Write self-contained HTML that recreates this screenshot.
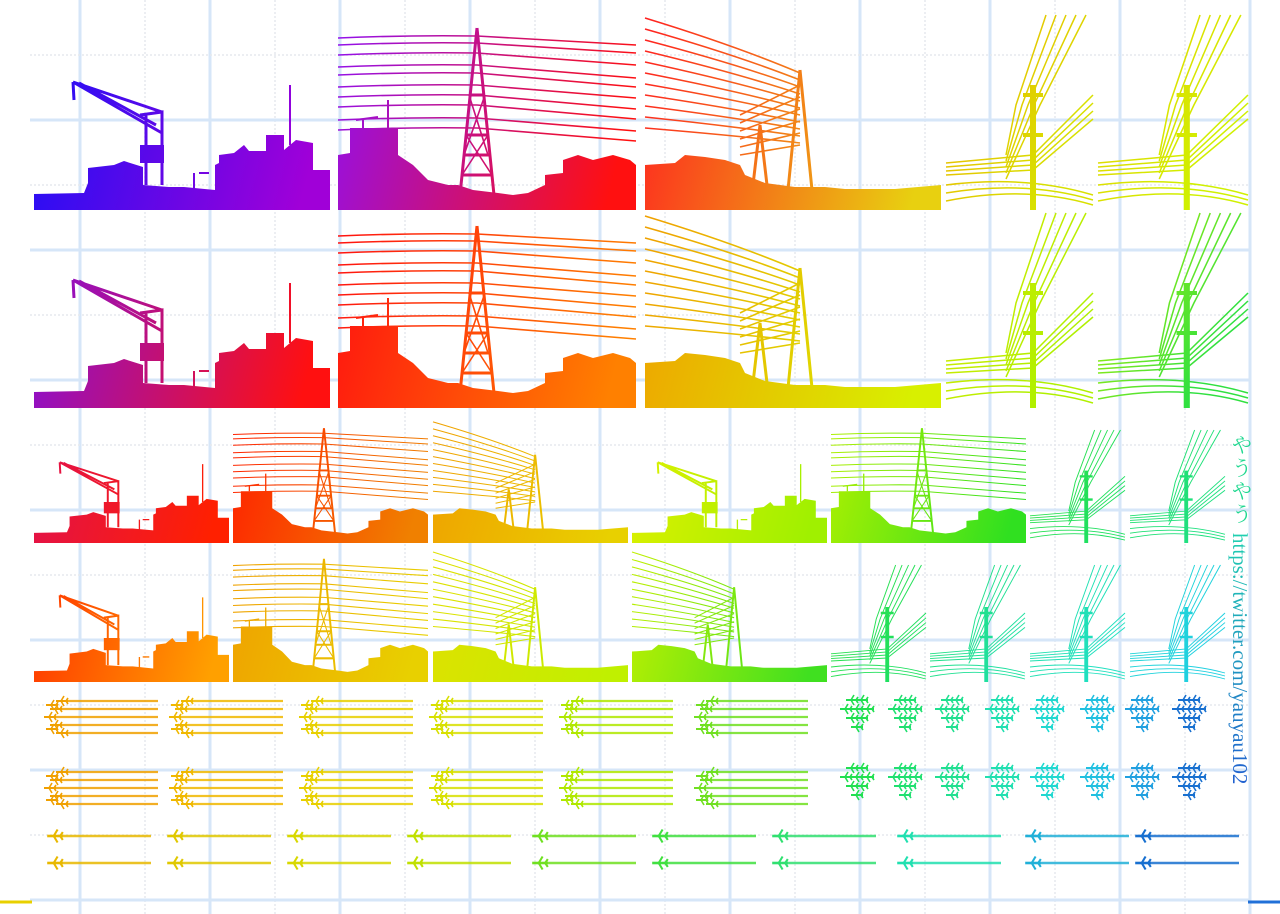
<!DOCTYPE html>
<html><head><meta charset="utf-8"><style>
html,body{margin:0;padding:0;background:#fff;}
#wrap{position:relative;width:1280px;height:914px;overflow:hidden;background:#fff;}
svg{position:absolute;left:0;top:0;}
.v{position:absolute;writing-mode:vertical-rl;font-family:"Liberation Serif","Noto Serif CJK SC",serif;font-size:21px;}
</style></head><body><div id="wrap">
<svg id="s" width="1280" height="914" viewBox="0 0 1280 914"></svg>
<div class="v" style="left:1226px;top:434px;color:#20d890;letter-spacing:2px;">やうやう</div>
<div class="v" style="left:1227px;top:533px;color:#20b0d0;background:linear-gradient(#20d0b0,#2060d0);-webkit-background-clip:text;background-clip:text;-webkit-text-fill-color:transparent;">https://twitter.com/yauyau102</div>
</div>
<script>
var s='';var defs='';var gid=0;
var g='';
for(var x=80;x<1280;x+=130){g+='<line x1="'+x+'" y1="0" x2="'+x+'" y2="914" stroke="#d6e6f8" stroke-width="3"/>';g+='<line x1="'+(x+65)+'" y1="0" x2="'+(x+65)+'" y2="914" stroke="#e6e9ee" stroke-width="1.5" stroke-dasharray="2,2"/>';}
for(var y=120;y<914;y+=130){g+='<line x1="30" y1="'+y+'" x2="1250" y2="'+y+'" stroke="#d6e6f8" stroke-width="3"/>';g+='<line x1="30" y1="'+(y-65)+'" x2="1250" y2="'+(y-65)+'" stroke="#e6e9ee" stroke-width="1.5" stroke-dasharray="2,2"/>';}
s+=g;
function grad(c1,c2,w,h){gid++;defs+='<linearGradient id="g'+gid+'" gradientUnits="userSpaceOnUse" x1="0" y1="0" x2="'+w+'" y2="'+(h*0.4)+'"><stop offset="0" stop-color="'+c1+'"/><stop offset="1" stop-color="'+c2+'"/></linearGradient>';return 'url(#g'+gid+')';}
function wrapG(x,y,sx,sy,inner){return '<g transform="translate('+x+','+y+') scale('+sx+','+sy+')">'+inner+'</g>';}
function crane(x,y,w,h,c1,c2){var f=grad(c1,c2,296,195);var i='';
i+='<path fill="'+f+'" d="M0,195 L0,179 L50,178 L54,168 L54,153 L80,150 L90,146 L109,152 L109,170 L135,172 L150,172 L181,175 L181,150 L185,148 L185,140 L200,138 L210,130 L215,136 L232,136 L232,120 L250,120 L250,135 L262,125 L279,128 L279,155 L296,155 L296,195 Z"/>';
i+='<g stroke="'+f+'" fill="none"><path d="M39,67 L128,97 M39,67 L128,118 M45,68 L122,110 M106,100 L128,97 L128,170 M112,100 L112,170 M39,67 L40,85" stroke-width="3"/><path d="M256,70 L256,130 M160,158 L160,175 M165,158 L175,158" stroke-width="2"/></g>';
i+='<rect x="106" y="130" width="24" height="18" fill="'+f+'"/>';
s+=wrapG(x,y,w/296,h/195,i);}
function tower(x,y,w,h,c1,c2){var f=grad(c1,c2,298,195);var i='<g stroke="'+f+'" fill="none" stroke-width="1.6">';
var L=[23,30,40,52,60,72,82,92,105,115];var R=[22,30,42,55,64,75,86,96,108,118];
for(var k=0;k<L.length;k++){i+='<path d="M0,'+L[k]+' Q70,'+(L[k]-3)+' 139,'+(L[k]-2)+' L298,'+(R[k]+8)+'"/>';}
i+='<path d="M139,13 L122,180 M139,13 L156,180 M128,120 L150,120 M124,160 L154,160 M126,140 L152,140 M131,80 L147,80" stroke-width="3"/><path d="M128,120 L154,160 M150,120 L124,160 M131,80 L150,140 M147,80 L126,140"/></g>';
i+='<path fill="'+f+'" d="M0,195 L0,140 L12,138 L12,113 L60,113 L60,140 L75,150 L90,165 L110,170 L120,170 L135,175 L160,178 L175,180 L190,178 L207,170 L207,160 L225,158 L225,145 L240,140 L255,145 L275,140 L292,145 L298,150 L298,195 Z"/><path stroke="'+f+'" stroke-width="2" d="M25,113 L25,105 M18,105 L40,102 M50,113 L50,85"/>';
s+=wrapG(x,y,w/298,h/195,i);}
function tower2(x,y,w,h,c1,c2){var f=grad(c1,c2,296,195);var i='<g stroke="'+f+'" fill="none" stroke-width="1.6">';
for(var k=0;k<11;k++){var yl=3+k*11;var yt=58+k*7;i+='<path d="M0,'+yl+' Q90,'+(yl+(yt-yl)*0.5)+' 155,'+yt+'"/>';}
for(var k=0;k<6;k++){i+='<path d="M95,'+(100+k*8)+' L155,'+(70+k*12)+'"/>';}
i+='<path d="M155,55 L143,175 M155,55 L167,175 M115,110 L108,170 M115,110 L122,170" stroke-width="3"/></g>';
i+='<path fill="'+f+'" d="M0,195 L0,150 L30,148 L40,140 L60,142 L80,145 L95,150 L100,160 L120,168 L150,172 L180,172 L200,174 L250,174 L296,170 L296,195 Z"/>';
s+=wrapG(x,y,w/296,h/195,i);}
function pole(x,y,w,h,c1,c2){var f=grad(c1,c2,147,195);var i='<g stroke="'+f+'" fill="none" stroke-width="1.5">';
for(var k=0;k<5;k++){i+='<path d="M'+(100+k*10)+',0 L'+(70+k*6)+',90 L'+(60)+','+(140+k*6)+'"/>';}
for(var k=0;k<4;k++){i+='<path d="M147,'+(80+k*8)+' L87,'+(140+k*5)+' L0,'+(148+k*4)+'"/>';}
for(var k=0;k<3;k++){i+='<path d="M0,'+(170+k*8)+' Q80,'+(160+k*5)+' 147,'+(180+k*5)+'"/>';}
i+='<path d="M87,70 L87,195" stroke-width="6"/><path d="M77,80 L97,80 M77,120 L97,120" stroke-width="4"/></g>';
s+=wrapG(x,y,w/147,h/195,i);}
crane(34,15,296,195,'#1a10f8','#a000d8');tower(338,15,298,195,'#9010f0','#ff1010');tower2(645,15,296,195,'#ff2020','#e8d010');pole(946,15,147,195,'#f0b000','#d8e000');pole(1098,15,150,195,'#e8d000','#d0f000');
crane(34,213,296,195,'#8010e0','#ff1010');tower(338,213,298,195,'#ff1010','#ff8000');tower2(645,213,296,195,'#f0a000','#d8f000');pole(946,213,147,195,'#d8e800','#b0f000');pole(1098,213,150,195,'#c0f000','#30e040');
crane(34,420,195,123,'#e01050','#ff2000');tower(233,420,195,123,'#ff2000','#f08000');tower2(433,420,195,123,'#f0a000','#e8d000');crane(632,420,195,123,'#e0f000','#a0f000');tower(831,420,195,123,'#b0f000','#30e020');pole(1030,430,95,113,'#30e040','#20e060');pole(1130,430,95,113,'#20e060','#20e080');
crane(34,550,195,132,'#ff3000','#ffa000');tower(233,550,195,132,'#f0a000','#e8d000');tower2(433,550,195,132,'#e0e000','#c0f000');tower2(632,550,195,132,'#c0f000','#40e020');
pole(831,565,95,117,'#30e040','#20e060');pole(930,565,95,117,'#20e070','#20e0a0');pole(1030,565,95,117,'#20e0a0','#20e0c0');pole(1130,565,95,117,'#20d8d0','#20d0e0');
function plane(x,y,c,sz){sz=sz||1;return '<g transform="translate('+x+','+y+') scale('+sz+')" fill="none" stroke="'+c+'"><path d="M-6,0 L6,0" stroke-width="2"/><path d="M-1,0 L2,-5 M-1,0 L2,5 M4,0 L6,-3 M4,0 L6,3" stroke-width="1.6"/></g>';}
var cA=['#f0a000','#f0b800','#e8d000','#d8e000','#b0e800','#70e020'];
var cB=['#20e050','#20e070','#20e090','#20e0b0','#20d8d0','#20c0e0','#20a0e0','#1870d0'];
var cC=['#e8b800','#e0c800','#d8d800','#c0e000','#70e020','#40e040','#30e070','#20e0b0','#20b0d8','#1870d0'];
function formA(x,y,c){var o='';var ys=[0,8,16,24,32];var xs=[12,6,0,6,12];for(var k=0;k<5;k++){o+='<line x1="'+(x+xs[k]+5)+'" y1="'+(y+ys[k])+'" x2="'+(x+108)+'" y2="'+(y+ys[k])+'" stroke="'+c+'" stroke-width="2.2" opacity="0.85"/>';o+=plane(x+xs[k],y+ys[k],c);}o+=plane(x+2,y+4,c);o+=plane(x+2,y+28,c);return o;}
function formB(x,y,c){var o='';var pts=[[12,0],[22,0],[6,9],[17,9],[28,9],[12,18],[22,18],[17,27]];for(var k=0;k<pts.length;k++)o+=plane(x+pts[k][0],y+pts[k][1],c);return o;}
var ax=[50,175,305,435,565,700];
for(var k=0;k<6;k++){s+=formA(ax[k],701,cA[k]);s+=formA(ax[k],772,cA[k]);}
var bx=[840,888,935,985,1030,1080,1125,1172];
for(var k=0;k<8;k++){s+=formB(bx[k],700,cB[k]);s+=formB(bx[k],768,cB[k]);}
var cx=[55,175,295,415,540,660,780,905,1033,1143];
for(var k=0;k<10;k++){var c=cC[k];for(var j=0;j<2;j++){var yy=j?863:836;s+='<line x1="'+(cx[k]+6)+'" y1="'+yy+'" x2="'+(cx[k]+96)+'" y2="'+yy+'" stroke="'+c+'" stroke-width="2.5" opacity="0.85"/>'+plane(cx[k],yy,c,1.3);}}
s+='<line x1="0" y1="902" x2="32" y2="902" stroke="#e8d000" stroke-width="3"/><line x1="1248" y1="902" x2="1280" y2="902" stroke="#2070d8" stroke-width="3"/>';
document.getElementById('s').innerHTML='<defs>'+defs+'</defs>'+s;
</script>
</body></html>
